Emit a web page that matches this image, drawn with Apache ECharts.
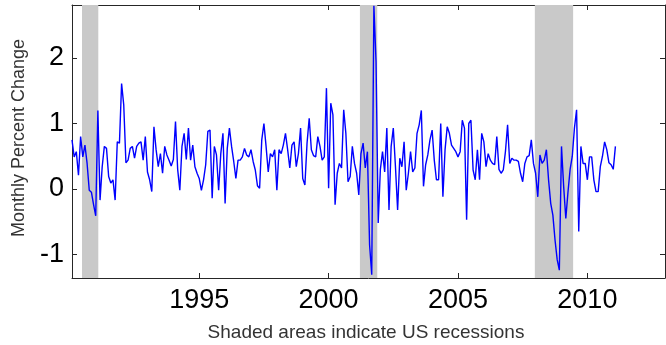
<!DOCTYPE html>
<html><head><meta charset="utf-8">
<script src="https://cdn.jsdelivr.net/npm/echarts@6/dist/echarts.min.js"></script>
<style>html,body{margin:0;padding:0;background:#fff}#c{width:666px;height:345px}</style>
</head><body><div id="c"></div>
<script>
// Monthly percent change, Feb 1990 .. Feb 2011
const startYear = 1990;
const startMonth = 2;
const values = [
  0.75, 0.49, 0.57, 0.21, 0.8, 0.49, 0.67, 0.39, -0.02, -0.05,
  -0.24, -0.41, 1.2, -0.17, 0.34, 0.65, 0.62, 0.19, 0.09, 0.14,
  -0.17, 0.72, 0.7, 1.61, 1.28, 0.4, 0.44, 0.62, 0.65, 0.47,
  0.65, 0.7, 0.72, 0.44, 0.8, 0.26, 0.14, -0.04, 0.95, 0.6,
  0.34, 0.54, 0.24, 0.65, 0.52, 0.44,
  0.35, 0.45, 1.03, 0.3, -0.02, 0.65, 0.85, 0.45, 0.93, 0.44,
  0.67, 0.34, 0.24, 0.16, -0.02, 0.14, 0.37, 0.88, 0.9, -0.14,
  0.65, 0.52, -0.02, 0.54, 0.85, -0.22, 0.62, 0.93, 0.65, 0.42,
  0.16, 0.44, 0.44, 0.49, 0.62, 0.52, 0.49, 0.6, 0.42, 0.29,
  0.05, 0.01, 0.75, 1.0, 0.65, 0.26, 0.54, 0.49, 0.6, -0.02,
  0.6, 0.54, 0.67, 0.85, 0.6, 0.32, 0.67, 0.72,
  0.34, 0.54, 0.93, 0.16, 0.06, 0.7, 1.08, 0.6, 0.51, 0.49,
  0.8, 0.65, 0.44, 0.49, 1.54, 0.01, 1.31, 1.13, -0.24, 0.24,
  0.39, 0.32, 1.21, 0.85, 0.11, 0.19, 0.65, 0.39, 0.24, -0.09,
  0.54, 0.7,
  0.32, 0.57, -0.85, -1.31, 2.8, 1.94, -0.52, 0.3, 0.57, 0.26,
  0.93, -0.32, 0.65, 0.93, 0.34, -0.32,
  0.47, 0.34, 0.72, -0.02, 0.24, 0.57, 0.26, 0.32, 0.85, 0.98,
  1.2, 0.04, 0.37, 0.52, 0.75, 0.9, 0.44, 0.14, 0.14, 1.0,
  -0.12, 0.6, 0.95, 0.85, 0.67, 0.62, 0.57, 0.49,
  0.57, 1.05, 0.93, -0.47, 1.0, 1.05, 0.29, 0.14, 0.6, 0.14,
  0.85, 0.72, 0.34, 0.54, 0.44, 0.39, 0.37, 0.8, 0.3, 0.24,
  0.29, 0.57, 0.98, 0.39, 0.47, 0.44, 0.44, 0.42,
  0.24, 0.11, 0.39, 0.49, 0.51, 0.75, 0.39, 0.24, -0.12, 0.52,
  0.39, 0.44, 0.6, 0.14, -0.22, -0.4, -0.78, -1.08, -1.24, 0.65,
  0.04, -0.45,
  -0.05, 0.3, 0.5, 0.93, 1.21, -0.65, 0.65, 0.39, 0.39, 0.14,
  0.49, 0.49, 0.14, -0.04, -0.04, 0.34, 0.5, 0.72, 0.6, 0.4,
  0.37, 0.3, 0.65
];
const recessionStarts = [1990.47, 2001.21, 2007.97];
const recessionEnds   = [1991.10, 2001.88, 2009.45];
const xTicks = [1995, 2000, 2005, 2010];
const yTicks = [-1, 0, 1, 2];
const xMin = 1990 + 1 / 12, xMax = 2013;
const yMin = -1.36, yMax = 2.81;
const yTitle = 'Monthly Percent Change';
const caption = 'Shaded areas indicate US recessions';

const data = values.map((v, i) => [startYear + (startMonth - 1 + i) / 12, v]);
const font = "'Liberation Sans', Arial, sans-serif";
const axisColor = '#262626';

const chart = echarts.init(document.getElementById('c'), null, {renderer: 'canvas'});
function xAx(pos, showLabel) {
  return {
    type: 'value', position: pos, min: xMin, max: xMax,
    axisLine: {show: true, onZero: false, lineStyle: {color: axisColor, width: 1}},
    axisTick: {show: true, inside: true, length: 5, customValues: xTicks, lineStyle: {color: axisColor}},
    axisLabel: {show: showLabel, customValues: xTicks, formatter: v => String(Math.round(v)),
                fontSize: 27, color: '#000', fontFamily: font, margin: 9},
    splitLine: {show: false}
  };
}
function yAx(pos, showLabel) {
  return {
    type: 'value', position: pos, min: yMin, max: yMax,
    axisLine: {show: true, onZero: false, lineStyle: {color: axisColor, width: 1}},
    axisTick: {show: true, inside: true, length: 5, customValues: yTicks, lineStyle: {color: axisColor}},
    axisLabel: {show: showLabel, customValues: yTicks, formatter: v => String(Math.round(v)),
                fontSize: 27, color: '#000', fontFamily: font, margin: 8},
    splitLine: {show: false}
  };
}
chart.setOption({
  animation: false,
  backgroundColor: '#fff',
  grid: {left: 72, right: 1, top: 5, bottom: 67},
  xAxis: [xAx('bottom', true), xAx('top', false)],
  yAxis: [yAx('left', true), yAx('right', false)],
  series: [{
    type: 'line', data: data, showSymbol: false, z: 3,
    lineStyle: {color: '#0000ff', width: 1.4},
    markArea: {
      silent: true,
      itemStyle: {color: '#c9c9c9', opacity: 1},
      data: recessionStarts.map((s, k) => [{xAxis: s}, {xAxis: recessionEnds[k]}])
    }
  }],
  graphic: [
    {type: 'text', x: 19, y: 138, rotation: Math.PI / 2,
     style: {text: yTitle, fontSize: 18, fontFamily: font, fill: '#333', align: 'center', verticalAlign: 'middle'}},
    {type: 'text', x: 366, y: 333,
     style: {text: caption, fontSize: 19, fontFamily: font, fill: '#333', align: 'center', verticalAlign: 'middle'}}
  ]
});
</script></body></html>
